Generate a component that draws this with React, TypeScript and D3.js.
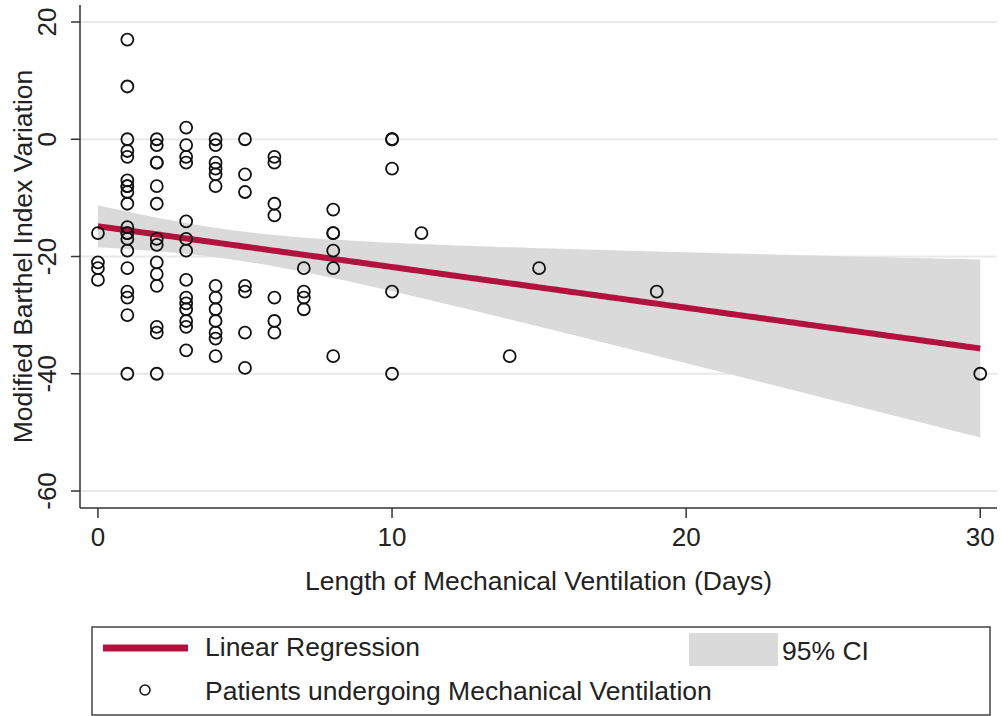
import React, { useEffect, useRef } from "react";
import * as d3 from "d3";

// days on mechanical ventilation (x) and the MBI change of each patient at that day count
const dayGroups = [0, 1, 2, 3, 4, 5, 6, 7, 8, 10, 11, 14, 15, 19, 30];
const mbiByDay = [
  [-16, -21, -22, -24],
  [17, 9, 0, -2, -3, -7, -8, -8, -9, -11, -15, -16, -16, -17, -19, -22, -26, -27, -30, -40],
  [0, -1, -4, -4, -8, -11, -17, -18, -21, -23, -25, -32, -33, -40],
  [2, -1, -3, -4, -14, -17, -19, -24, -27, -28, -29, -31, -32, -36],
  [0, -1, -4, -5, -6, -8, -25, -27, -29, -31, -33, -34, -37],
  [0, -6, -9, -25, -26, -33, -39],
  [-3, -4, -11, -13, -27, -31, -33],
  [-22, -26, -27, -29],
  [-12, -16, -16, -19, -22, -37],
  [0, 0, -5, -26, -40],
  [-16],
  [-37],
  [-22],
  [-26],
  [-40],
];

const xTicks = [0, 10, 20, 30];
const yTicks = [20, 0, -20, -40, -60];

const xTitle = "Length of Mechanical Ventilation (Days)";
const yTitle = "Modified Barthel Index Variation";
const legendFit = "Linear Regression";
const legendCI = "95% CI";
const legendPoints = "Patients undergoing Mechanical Ventilation";

const FONT = "'Liberation Sans', Arial, sans-serif";
const RED = "#b3123e";
const BAND = "#dadada";

const App = () => {
  const ref = useRef<SVGSVGElement>(null);

  useEffect(() => {
    const svg = d3.select(ref.current);
    svg.selectAll("*").remove();

    const width = 1002;
    const height = 716;
    const plot = { left: 80, right: 997, top: 5, bottom: 508 };

    svg.attr("width", width).attr("height", height);

    const x = d3.scaleLinear().domain([-0.61, 30.57]).range([plot.left, plot.right]);
    const y = d3.scaleLinear().domain([-62.9, 22.9]).range([plot.bottom, plot.top]);

    const pts = dayGroups.flatMap((d, i) => mbiByDay[i].map((v) => ({ x: d, y: v })));

    // least squares fit with 95% confidence band of the mean
    const n = pts.length;
    const mx = d3.mean(pts, (p) => p.x) as number;
    const my = d3.mean(pts, (p) => p.y) as number;
    const sxx = d3.sum(pts, (p) => (p.x - mx) ** 2);
    const sxy = d3.sum(pts, (p) => (p.x - mx) * (p.y - my));
    const slope = sxy / sxx;
    const icept = my - slope * mx;
    const sse = d3.sum(pts, (p) => (p.y - icept - slope * p.x) ** 2);
    const se = Math.sqrt(sse / (n - 2));
    const tCrit = 1.985;
    const [x0, x1] = d3.extent(pts, (p) => p.x) as [number, number];
    const band = d3.range(x0, x1 + 0.001, (x1 - x0) / 200).map((xv) => {
      const fit = icept + slope * xv;
      const hw = tCrit * se * Math.sqrt(1 / n + (xv - mx) ** 2 / sxx);
      return { x: xv, fit, lo: fit - hw, hi: fit + hw };
    });

    // gridlines
    svg
      .append("g")
      .selectAll("line")
      .data(yTicks)
      .enter()
      .append("line")
      .attr("x1", plot.left)
      .attr("x2", plot.right)
      .attr("y1", (d) => y(d))
      .attr("y2", (d) => y(d))
      .attr("stroke", "#e9e9e9")
      .attr("stroke-width", 2);

    // CI band
    const area = d3
      .area<{ x: number; lo: number; hi: number }>()
      .x((d) => x(d.x))
      .y0((d) => y(d.lo))
      .y1((d) => y(d.hi));
    svg.append("path").datum(band).attr("d", area).attr("fill", BAND);

    // fitted line
    const line = d3
      .line<{ x: number; fit: number }>()
      .x((d) => x(d.x))
      .y((d) => y(d.fit));
    svg
      .append("path")
      .datum(band)
      .attr("d", line)
      .attr("fill", "none")
      .attr("stroke", RED)
      .attr("stroke-width", 6);

    // patients
    svg
      .append("g")
      .selectAll("circle")
      .data(pts)
      .enter()
      .append("circle")
      .attr("cx", (d) => x(d.x))
      .attr("cy", (d) => y(d.y))
      .attr("r", 6)
      .attr("fill", "none")
      .attr("stroke", "#111")
      .attr("stroke-width", 1.8);

    // axes
    const axisColor = "#333";
    svg
      .append("line")
      .attr("x1", plot.left)
      .attr("x2", plot.left)
      .attr("y1", plot.top)
      .attr("y2", plot.bottom)
      .attr("stroke", axisColor)
      .attr("stroke-width", 1.5);
    svg
      .append("line")
      .attr("x1", plot.left)
      .attr("x2", plot.right)
      .attr("y1", plot.bottom)
      .attr("y2", plot.bottom)
      .attr("stroke", axisColor)
      .attr("stroke-width", 1.5);

    const yAxis = svg.append("g").selectAll("g").data(yTicks).enter().append("g");
    yAxis
      .append("line")
      .attr("x1", plot.left - 9)
      .attr("x2", plot.left)
      .attr("y1", (d) => y(d))
      .attr("y2", (d) => y(d))
      .attr("stroke", axisColor)
      .attr("stroke-width", 1.5);
    yAxis
      .append("text")
      .attr("transform", (d) => `translate(47,${y(d)}) rotate(-90)`)
      .attr("dy", "0.36em")
      .attr("text-anchor", "middle")
      .style("font-family", FONT)
      .style("font-size", "26px")
      .attr("fill", "#222")
      .text((d) => d);

    const xAxis = svg.append("g").selectAll("g").data(xTicks).enter().append("g");
    xAxis
      .append("line")
      .attr("x1", (d) => x(d))
      .attr("x2", (d) => x(d))
      .attr("y1", plot.bottom)
      .attr("y2", plot.bottom + 10)
      .attr("stroke", axisColor)
      .attr("stroke-width", 1.5);
    xAxis
      .append("text")
      .attr("x", (d) => x(d))
      .attr("y", 537)
      .attr("dy", "0.36em")
      .attr("text-anchor", "middle")
      .style("font-family", FONT)
      .style("font-size", "26px")
      .attr("fill", "#222")
      .text((d) => d);

    // axis titles
    svg
      .append("text")
      .attr("x", (plot.left + plot.right) / 2)
      .attr("y", 580)
      .attr("dy", "0.36em")
      .attr("text-anchor", "middle")
      .style("font-family", FONT)
      .style("font-size", "26.5px")
      .attr("fill", "#222")
      .text(xTitle);
    svg
      .append("text")
      .attr("transform", `translate(22,${(plot.top + plot.bottom) / 2}) rotate(-90)`)
      .attr("dy", "0.36em")
      .attr("text-anchor", "middle")
      .style("font-family", FONT)
      .style("font-size", "26.5px")
      .attr("fill", "#222")
      .text(yTitle);

    // legend
    const lg = svg.append("g");
    lg.append("rect")
      .attr("x", 92)
      .attr("y", 627)
      .attr("width", 898)
      .attr("height", 88)
      .attr("fill", "white")
      .attr("stroke", "#444")
      .attr("stroke-width", 1.5);
    lg.append("line")
      .attr("x1", 103)
      .attr("x2", 188)
      .attr("y1", 648)
      .attr("y2", 648)
      .attr("stroke", RED)
      .attr("stroke-width", 7);
    lg.append("rect")
      .attr("x", 689)
      .attr("y", 633)
      .attr("width", 89)
      .attr("height", 33)
      .attr("fill", BAND);
    lg.append("circle")
      .attr("cx", 145)
      .attr("cy", 690)
      .attr("r", 5)
      .attr("fill", "none")
      .attr("stroke", "#111")
      .attr("stroke-width", 1.5);

    const legendText = [
      { label: legendFit, lx: 205, ly: 646 },
      { label: legendCI, lx: 782, ly: 650 },
      { label: legendPoints, lx: 205, ly: 690 },
    ];
    lg.selectAll("text.item")
      .data(legendText)
      .enter()
      .append("text")
      .attr("class", "item")
      .attr("x", (d) => d.lx)
      .attr("y", (d) => d.ly)
      .attr("dy", "0.36em")
      .style("font-family", FONT)
      .style("font-size", "26.5px")
      .attr("fill", "#222")
      .text((d) => d.label);
  }, []);

  return (
    <svg
      ref={ref}
      style={{ position: "absolute", left: 0, top: 0, background: "white" }}
    ></svg>
  );
};

export default App;
